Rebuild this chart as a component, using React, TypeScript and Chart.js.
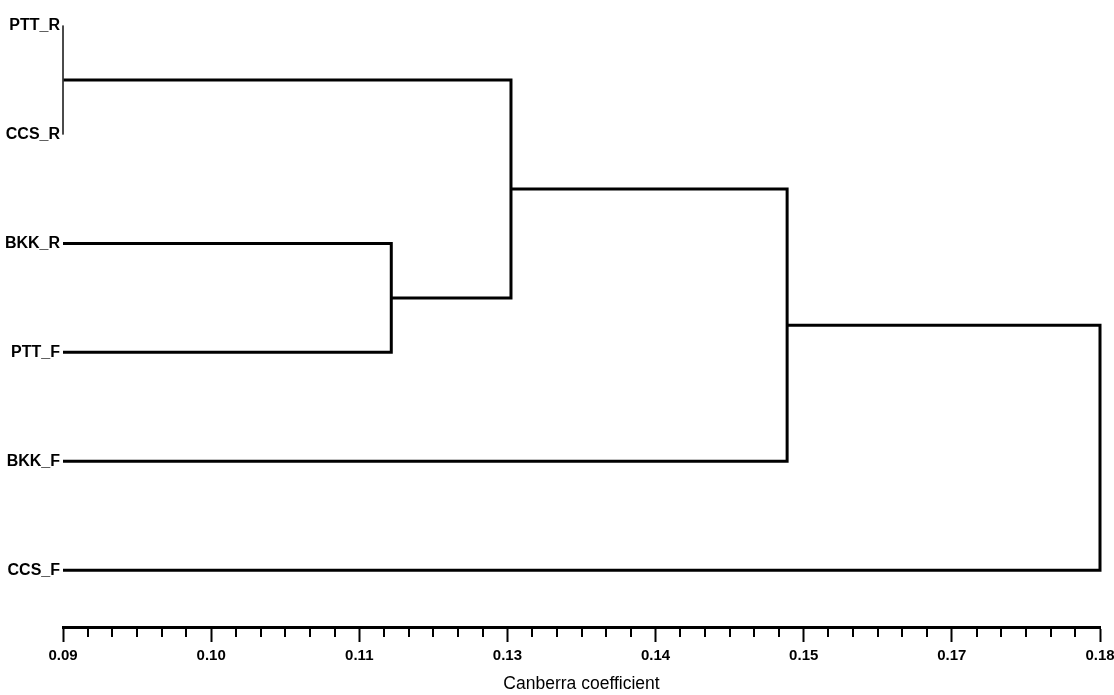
import React, { useEffect, useRef } from 'react';
import { Chart, registerables } from 'chart.js';

Chart.register(...registerables);

// ---- data ----
const leafLabels = ['PTT_R', 'CCS_R', 'BKK_R', 'PTT_F', 'BKK_F', 'CCS_F'];
// merges: node ids 0-5 are leaves, 6+ are merged clusters (in order)
const mergeLeft = [0, 2, 6, 8, 9];
const mergeRight = [1, 3, 7, 4, 5];
const mergeHeight = [0.09, 0.1177, 0.1278, 0.1511, 0.1775];
const axisMin = 0.09;
const axisMax = 0.1775;
const majorTickValues = [0.09, 0.1025, 0.115, 0.1275, 0.14, 0.1525, 0.165, 0.1775];
const majorTickLabels = ['0.09', '0.10', '0.11', '0.13', '0.14', '0.15', '0.17', '0.18'];
const minorTicksPerInterval = 5;
const axisTitle = 'Canberra coefficient';

const SANS = '"Liberation Sans", Arial, sans-serif';

function buildSegments() {
  const nodeY: number[] = leafLabels.map((_, i) => i);
  const nodeH: number[] = leafLabels.map(() => axisMin);
  const segs: { x: number; y: number }[][] = [];
  mergeLeft.forEach((l, k) => {
    const r = mergeRight[k];
    const h = mergeHeight[k];
    segs.push([
      { x: nodeH[l], y: nodeY[l] },
      { x: h, y: nodeY[l] },
      { x: h, y: nodeY[r] },
      { x: nodeH[r], y: nodeY[r] },
    ]);
    nodeY.push((nodeY[l] + nodeY[r]) / 2);
    nodeH.push(h);
  });
  return segs;
}

const minorTicksPlugin = {
  id: 'minorTicks',
  afterDraw(chart: any) {
    const xs = chart.scales.x;
    const ctx = chart.ctx;
    const y0 = chart.chartArea.bottom;
    ctx.save();
    ctx.strokeStyle = '#000';
    ctx.lineWidth = 2;
    ctx.beginPath();
    for (let i = 0; i < majorTickValues.length - 1; i++) {
      const a = majorTickValues[i];
      const b = majorTickValues[i + 1];
      for (let j = 1; j <= minorTicksPerInterval; j++) {
        const v = a + ((b - a) * j) / (minorTicksPerInterval + 1);
        const px = Math.round(xs.getPixelForValue(v));
        ctx.moveTo(px, y0);
        ctx.lineTo(px, y0 + 10);
      }
    }
    ctx.stroke();
    ctx.restore();
  },
};

export default function App() {
  const ref = useRef<HTMLCanvasElement>(null);
  useEffect(() => {
    const segs = buildSegments();
    const chart = new Chart(ref.current as HTMLCanvasElement, {
      type: 'scatter',
      data: {
        datasets: segs.map((s, k) => ({
          data: s,
          showLine: true,
          borderColor: k === 0 ? '#333' : '#000',
          borderWidth: k === 0 ? 1 : 3,
          pointRadius: 0,
          borderCapStyle: 'butt',
          borderJoinStyle: 'miter',
          tension: 0,
          clip: false,
        })) as any,
      },
      options: {
        animation: false,
        responsive: false,
        events: [],
        layout: { padding: { top: 0, right: 14, bottom: 0, left: 0 } },
        plugins: { legend: { display: false }, tooltip: { enabled: false } },
        scales: {
          x: {
            type: 'linear',
            min: axisMin,
            max: axisMax,
            afterBuildTicks: (scale: any) => {
              scale.ticks = majorTickValues.map((v) => ({ value: v }));
            },
            afterFit: (scale: any) => {
              scale.paddingRight = 0;
              scale.paddingLeft = 0;
            },
            ticks: {
              autoSkip: false,
              maxRotation: 0,
              padding: 5,
              color: '#000',
              font: { family: SANS, size: 15, weight: 'bold' },
              callback: (_v: any, i: number) => majorTickLabels[i],
            },
            grid: {
              display: true,
              drawOnChartArea: false,
              drawTicks: true,
              tickLength: 15,
              tickWidth: 2,
              tickColor: '#000',
            },
            border: { display: true, color: '#000', width: 3 },
            title: {
              display: true,
              text: axisTitle,
              color: '#000',
              font: { family: SANS, size: 17.5 },
              padding: { top: 4, bottom: 0 },
            },
          },
          y: {
            type: 'linear',
            reverse: true,
            min: -0.119,
            max: 5.521,
            afterBuildTicks: (scale: any) => {
              scale.ticks = leafLabels.map((_, i) => ({ value: i }));
            },
            afterFit: (scale: any) => {
              scale.width = 63;
            },
            ticks: {
              autoSkip: false,
              padding: 3,
              color: '#000',
              font: { family: SANS, size: 16, weight: 'bold' },
              callback: (v: any) => leafLabels[Math.round(Number(v))] ?? '',
            },
            grid: { display: false, drawTicks: false },
            border: { display: false },
          },
        },
      },
      plugins: [minorTicksPlugin],
    });
    return () => chart.destroy();
  }, []);
  return (
    <div style={{ position: 'absolute', left: 0, top: 0, width: 1114, height: 695, background: '#fff' }}>
      <canvas ref={ref} width={1114} height={695} />
    </div>
  );
}
